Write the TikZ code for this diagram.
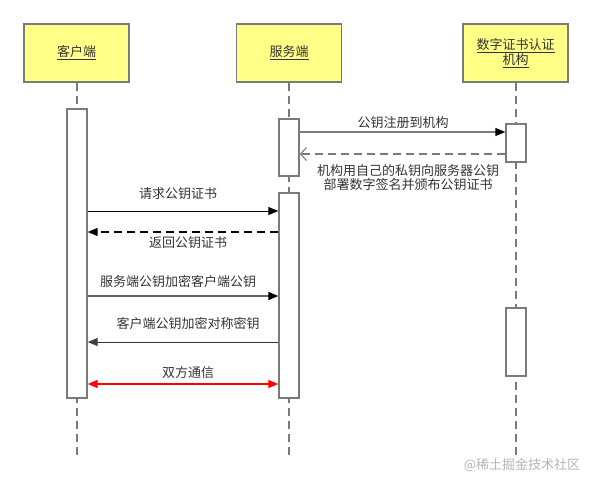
\documentclass[tikz,border=0pt]{standalone}
\usepackage{fontspec}
\setmainfont{Noto Sans CJK SC}
\usetikzlibrary{arrows.meta}
\definecolor{boxfill}{HTML}{FFFF88}
\definecolor{edge}{HTML}{7A7A7A}
\definecolor{txt}{HTML}{333333}
\definecolor{wm}{HTML}{B4B4B4}
\tikzset{
  actor/.style={draw=edge, line width=1.6pt, fill=boxfill, minimum width=105pt, minimum height=58pt, inner sep=0pt, align=center, font=\fontsize{13}{16}\selectfont, text=txt},
  life/.style={draw=edge, line width=1.5pt, dash pattern=on 8pt off 5pt},
  act/.style={draw=edge, line width=1.4pt, fill=white, minimum width=20pt, inner sep=0pt},
  lbl/.style={font=\fontsize{13}{15.5}\selectfont, text=txt, inner sep=0pt, align=center},
  tip/.style={-{Triangle[length=10pt,width=8pt,color=black]}},
  tipgray/.style={-{Triangle[length=10pt,width=8pt,color=black!75]}},
}
\newcommand{\ul}[1]{\underline{#1}}
\begin{document}
\begin{tikzpicture}[x=1pt,y=-1pt]
\useasboundingbox (0,0) rectangle (593,487);
% actors
\node[actor] (cl) at (76.5,53) {\ul{客户端}};
\node[actor] (sv) at (289,53) {\ul{服务端}};
\node[actor] (ca) at (515.5,53) {\ul{数字证书认证}\\[-1pt]\ul{机构}};
% lifeline ends
\coordinate (clend) at (77,457);
\coordinate (svend) at (289,457);
\coordinate (caend) at (516,456);
\draw[life] (cl.south -| clend) -- (clend);
\draw[life] (sv.south -| svend) -- (svend);
\draw[life] (ca.south -| caend) -- (caend);
% activations
\node[act, minimum height=289pt] (cla) at (77,253.5) {};
\node[act, minimum height=57pt] (sa1) at (289,147.5) {};
\node[act, minimum height=205pt] (sa2) at (289,295.5) {};
\node[act, minimum height=38pt] (ca1) at (516,143) {};
\node[act, minimum height=68pt] (ca2) at (516,342) {};
% message rows
\coordinate (m1) at (0,132);
\coordinate (m2) at (0,154);
\coordinate (m3) at (0,211);
\coordinate (m4) at (0,232);
\coordinate (m5) at (0,296);
\coordinate (m6) at (0,342);
\coordinate (m7) at (0,384);
% messages
\draw[edge, line width=1.5pt, tip] (sa1.east |- m1) -- (ca1.west |- m1);
\node[lbl] (l1) at (403,123) {公钥注册到机构};
\draw[edge, line width=1.4pt, dash pattern=on 8pt off 5pt, -{Straight Barb[length=6pt,width=13pt,line width=1.1pt]}] (ca1.west |- m2) -- (sa1.east |- m2);
\node[lbl] (l2) at (408,177.5) {机构用自己的私钥向服务器公钥\\[-1pt]部署数字签名并颁布公钥证书};
\draw[black, line width=1pt, tip] (cla.east |- m3) -- (sa2.west |- m3);
\node[lbl] (l3) at (178,194) {请求公钥证书};
\draw[black, line width=1.3pt, dash pattern=on 8pt off 5pt, tip] (sa2.west |- m4) -- (cla.east |- m4);
\node[lbl] (l4) at (188,243) {返回公钥证书};
\draw[edge!80!black, line width=1.8pt, tip] (cla.east |- m5) -- (sa2.west |- m5);
\node[lbl] (l5) at (178,282) {服务端公钥加密客户端公钥};
\draw[black!80, line width=1pt, tipgray] (sa2.west |- m6) -- (cla.east |- m6);
\node[lbl] (l6) at (188,324) {客户端公钥加密对称密钥};
\draw[red, line width=1.4pt, {Triangle[length=10pt,width=8pt]}-{Triangle[length=10pt,width=8pt]}] (cla.east |- m7) -- (sa2.west |- m7);
\node[lbl] (l7) at (188,373) {双方通信};
% watermark
\node[font=\fontsize{13}{15}\selectfont, text=wm, inner sep=0pt] (wmk) at (522,465) {@稀土掘金技术社区};
\end{tikzpicture}
\end{document}
